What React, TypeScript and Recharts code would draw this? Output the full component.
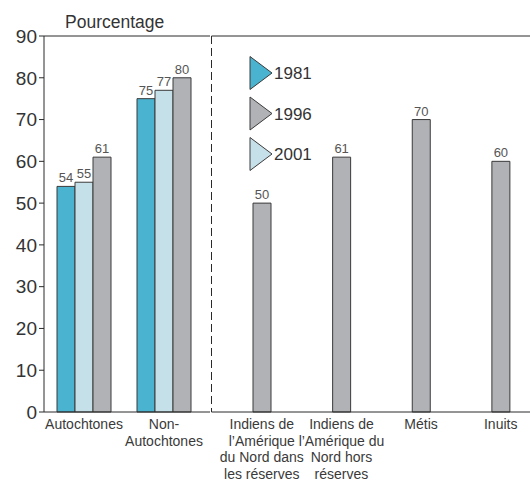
import React from "react";
import { BarChart, Bar, XAxis, YAxis, LabelList, ReferenceLine } from "recharts";

// categories (line breaks are the wraps used in the original labels)
const categories = [
  "Autochtones",
  "Non-\nAutochtones",
  "Indiens de\nl\u2019Amérique\ndu Nord dans\nles réserves",
  "Indiens de\nl\u2019Amérique du\nNord hors\nréserves",
  "Métis",
  "Inuits",
];
// bar values, in the order they are drawn in each group
const tealValues = [54, 75];
const lightValues = [55, 77];
const grayValues = [61, 80, 50, 61, 70, 60];

const legendItems = ["1981", "1996", "2001"];
const yTicks = [0, 10, 20, 30, 40, 50, 60, 70, 80, 90];

const TEAL = "#4ab3cf";
const LIGHT = "#c6e0e9";
const GRAY = "#b1b2b6";
const legendColors = [TEAL, GRAY, LIGHT];
const INK = "#2a2a2a";
const FONT = "'Liberation Sans', Arial, sans-serif";

const groupData = categories.slice(0, 2).map((name, i) => ({
  name,
  teal: tealValues[i],
  light: lightValues[i],
  gray: grayValues[i],
}));
const singleData = categories.slice(2).map((name, i) => ({
  name,
  gray: grayValues[i + 2],
}));

const MultiLineTick = (props: any) => {
  const { x, y, payload } = props;
  const lines = String(payload.value).split("\n");
  return (
    <text x={x} y={y} textAnchor="middle" fill="#3a3a3a" fontSize={14} fontFamily={FONT}>
      {lines.map((l, i) => (
        <tspan key={i} x={x} dy={i === 0 ? 15 : 16.5}>
          {l}
        </tspan>
      ))}
    </text>
  );
};

const labelStyle = { fontSize: 13, fill: "#555", fontFamily: FONT };
const barStroke = { stroke: "#3a3a3a", strokeWidth: 1 };

export default function App() {
  return (
    <div style={{ position: "absolute", top: 0, left: 0, width: 530, height: 482, background: "#fff", fontFamily: FONT }}>
      <div style={{ position: "absolute", left: 65, top: 12, fontSize: 17.5, color: "#333" }}>Pourcentage</div>

      <div style={{ position: "absolute", left: 0, top: 0 }}>
        <BarChart width={210} height={482} data={groupData} margin={{ top: 36, right: 0, left: 0, bottom: 0 }} barGap={0} barCategoryGap={13}>
          <XAxis
            dataKey="name"
            height={70}
            padding={{ left: 0, right: 6 }}
            tickLine={false}
            tickSize={0}
            axisLine={{ stroke: INK }}
            tick={<MultiLineTick />}
            interval={0}
          />
          <YAxis
            width={44}
            domain={[0, 90]}
            ticks={yTicks}
            tickSize={5}
            tickLine={{ stroke: INK }}
            axisLine={{ stroke: INK }}
            tick={{ fontSize: 19, fill: "#333", fontFamily: FONT }}
            interval={0}
          />
          <ReferenceLine y={90} stroke={INK} />
          <Bar dataKey="teal" fill={TEAL} {...barStroke} isAnimationActive={false}>
            <LabelList dataKey="teal" position="top" offset={4} style={labelStyle} />
          </Bar>
          <Bar dataKey="light" fill={LIGHT} {...barStroke} isAnimationActive={false}>
            <LabelList dataKey="light" position="top" offset={4} style={labelStyle} />
          </Bar>
          <Bar dataKey="gray" fill={GRAY} {...barStroke} isAnimationActive={false}>
            <LabelList dataKey="gray" position="top" offset={4} style={labelStyle} />
          </Bar>
        </BarChart>
      </div>

      <div style={{ position: "absolute", left: 209, top: 0 }}>
        <BarChart width={321} height={482} data={singleData} margin={{ top: 36, right: 0, left: 0, bottom: 0 }}>
          <XAxis
            dataKey="name"
            height={70}
            padding={{ left: 10.5, right: -10.5 }}
            tickLine={false}
            tickSize={0}
            axisLine={{ stroke: INK }}
            tick={<MultiLineTick />}
            interval={0}
          />
          <YAxis
            width={2.5}
            domain={[0, 90]}
            ticks={yTicks}
            tick={false}
            tickLine={false}
            axisLine={{ stroke: INK, strokeDasharray: "8 4" }}
          />
          <ReferenceLine y={90} stroke={INK} />
          <Bar dataKey="gray" fill={GRAY} barSize={18} {...barStroke} isAnimationActive={false}>
            <LabelList dataKey="gray" position="top" offset={4} style={labelStyle} />
          </Bar>
        </BarChart>
      </div>

      <svg style={{ position: "absolute", left: 0, top: 0 }} width={530} height={482} pointerEvents="none">
        {legendItems.map((label, i) => {
          const cy = 73 + i * 40.5;
          return (
            <g key={label}>
              <polygon points={`250,${cy - 16.5} 272,${cy} 250,${cy + 16.5}`} fill={legendColors[i]} stroke="#3a3a3a" strokeWidth={1} />
              <text x={274} y={cy + 6} fontSize={17} fill="#333" fontFamily={FONT}>
                {label}
              </text>
            </g>
          );
        })}
      </svg>
    </div>
  );
}
